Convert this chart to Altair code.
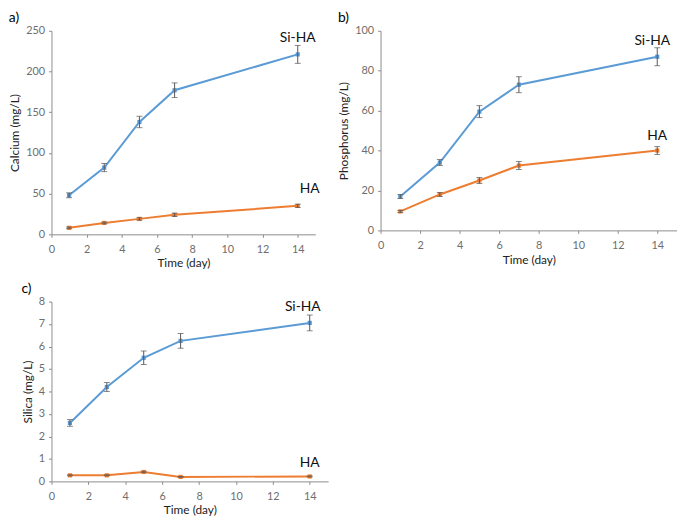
import altair as alt
import pandas as pd

days = [1, 3, 5, 7, 14]

# a) Calcium
ca_si = [48, 82, 138, 177, 221]
ca_si_err = [3, 5, 7, 9, 11]
ca_ha = [8, 14, 19, 24, 35]
ca_ha_err = [1, 1, 1.5, 2, 2]

# b) Phosphorus
p_si = [17, 34, 59.5, 73, 87]
p_si_err = [1, 1.5, 3, 4, 4.5]
p_ha = [9.5, 18, 25, 32.5, 40]
p_ha_err = [0.5, 1, 1.5, 2, 2]

# c) Silica
s_si = [2.6, 4.2, 5.5, 6.25, 7.05]
s_si_err = [0.15, 0.2, 0.3, 0.33, 0.35]
s_ha = [0.27, 0.27, 0.42, 0.2, 0.22]
s_ha_err = [0.02, 0.02, 0.03, 0.02, 0.02]

series_names = ["Si-HA", "HA"]
BLUE = "#5B9BD5"
ORANGE = "#ED7D31"
FONT = "Lato"


def panel(title, ytitle, ymax, ystep, si, si_err, ha, ha_err, w, h, lab):
    rows = []
    for s, vals, errs in [("Si-HA", si, si_err), ("HA", ha, ha_err)]:
        for d, v, e in zip(days, vals, errs):
            rows.append(dict(series=s, day=d, value=v, lo=v - e, hi=v + e))
    df = pd.DataFrame(rows)
    xs = alt.Scale(domain=[0, 15], nice=False)
    ys = alt.Scale(domain=[0, ymax], nice=False)
    xax = alt.Axis(values=list(range(0, 15, 2)), title="Time (day)",
                   labelOverlap=False, labelFlush=False, labelPadding=6)
    yticks = [i * ystep for i in range(int(round(ymax / ystep)) + 1)]
    yax = alt.Axis(values=yticks, title=ytitle, labelOverlap=False, labelFlush=False)
    color = alt.Color("series:N",
                      scale=alt.Scale(domain=series_names, range=[BLUE, ORANGE]),
                      legend=None)

    def X():
        return alt.X("day:Q", scale=xs, axis=xax)

    def Y(f):
        return alt.Y(f + ":Q", scale=ys, axis=yax)

    base = alt.Chart(df)
    line = base.mark_line(strokeWidth=2).encode(x=X(), y=Y("value"), color=color)
    pts = base.mark_point(shape="square", filled=True, size=18, opacity=1).encode(
        x=X(), y=Y("value"), color=color)
    rule = base.mark_rule(color="#555555", strokeWidth=1).encode(
        x=X(), y=Y("lo"), y2="hi:Q")
    tlo = base.mark_tick(orient="horizontal", size=6, thickness=1, color="#555555").encode(
        x=X(), y=Y("lo"))
    thi = base.mark_tick(orient="horizontal", size=6, thickness=1, color="#555555").encode(
        x=X(), y=Y("hi"))
    layers = [line, pts, rule, tlo, thi]
    for s, (dx, dy) in zip(series_names, lab):
        last = df[(df.series == s) & (df.day == days[-1])]
        t = alt.Chart(last).mark_text(fontSize=14, font=FONT, color="#111111",
                                      dx=dx, dy=dy, baseline="bottom").encode(
            x=X(), y=Y("value"), text="series:N")
        layers.append(t)
    return alt.layer(*layers).properties(
        width=w, height=h,
        title=alt.TitleParams(title, anchor="start", fontSize=14, font=FONT,
                              fontWeight="normal", color="#000000", offset=0))


a = panel("a)", "Calcium (mg/L)", 250, 50, ca_si, ca_si_err, ca_ha, ca_ha_err,
          267, 206, [(0, -10), (12, -10)])
b = panel("b)", "Phosphorus  (mg/L)", 100, 20, p_si, p_si_err, p_ha, p_ha_err,
          300, 202, [(-5, -9), (0, -8)])
c = panel("c)", "Silica (mg/L)", 8, 1, s_si, s_si_err, s_ha, s_ha_err,
          280, 182, [(-7, -9), (0, -7)])

top = alt.hconcat(a, b, spacing=17)
chart = alt.vconcat(top, c, spacing=13).properties(padding=0).configure_view(
    stroke=None
).configure_axis(
    grid=False,
    domainColor="#8c8c8c",
    tickColor="#8c8c8c",
    tickSize=3,
    labelFont=FONT,
    labelFontSize=11,
    labelColor="#6e6e6e",
    labelPadding=4,
    titleFont=FONT,
    titleFontSize=12,
    titleFontWeight="normal",
    titleColor="#222222",
    titlePadding=4,
)

chart.save("out.html", embed_options={"renderer": "svg", "actions": False})
